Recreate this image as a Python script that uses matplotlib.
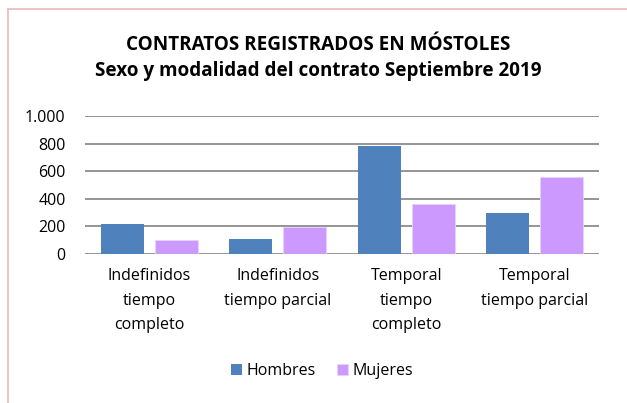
import numpy as np
import matplotlib
matplotlib.use("Agg")
import matplotlib.pyplot as plt
from matplotlib.lines import Line2D

categorias = ["Indefinidos\ntiempo\ncompleto", "Indefinidos\ntiempo parcial",
              "Temporal\ntiempo\ncompleto", "Temporal\ntiempo parcial"]
hombres = [220, 106, 785, 297]
mujeres = [99, 198, 360, 560]
y_ticks = [0, 200, 400, 600, 800, 1000]
y_labels = ["0", "200", "400", "600", "800", "1.000"]

plt.rcParams['font.family'] = ['Open Sans', 'DejaVu Sans']

fig = plt.figure(figsize=(6.27, 4.03), dpi=100)
W, H = 627, 403
ax = fig.add_axes([85 / W, 1 - 254 / H, 514 / W, 138 / H])

x = np.arange(len(categorias))
w = 0.334
off = 0.209
ax.bar(x - off, hombres, w, color='#4f81bd', label='Hombres', zorder=3)
ax.bar(x + off, mujeres, w, color='#cc99ff', edgecolor='#e8d0ff', linewidth=0.6,
       label='Mujeres', zorder=3)

ax.set_xlim(-0.5, 3.5)
ax.set_ylim(0, 1000)
ax.set_yticks(y_ticks)
ax.set_yticklabels(y_labels, fontsize=11.5)
ax.set_xticks(x)
ax.set_xticklabels(categorias, fontsize=11.5, linespacing=1.72, va='top')
ax.tick_params(axis='both', length=0, pad=10)
ax.tick_params(axis='y', pad=14)
ax.grid(axis='y', color='#8c8c8c', linewidth=1.3, zorder=0)
for s in ax.spines.values():
    s.set_visible(False)

fig.text(318 / W, 1 - 45 / H, "CONTRATOS REGISTRADOS EN MÓSTOLES", ha='center',
         va='center', fontsize=13.6, fontweight='bold')
fig.text(318 / W, 1 - 71 / H, "Sexo y modalidad del contrato Septiembre 2019",
         ha='center', va='center', fontsize=13.6, fontweight='bold')

fig.legend(loc='center', bbox_to_anchor=(322 / W, 1 - 371 / H), ncol=2, frameon=False,
           fontsize=11.5, handlelength=0.7, handleheight=0.7, handletextpad=0.3,
           columnspacing=1.3)

border = '#ebb8b8'
fig.add_artist(Line2D([7.5 / W, 7.5 / W], [0, 1 - 8.5 / H], color=border, linewidth=1.2))
fig.add_artist(Line2D([7.5 / W, 1], [1 - 8.5 / H, 1 - 8.5 / H], color=border, linewidth=1.2))

fig.savefig("out.png", dpi=100)
